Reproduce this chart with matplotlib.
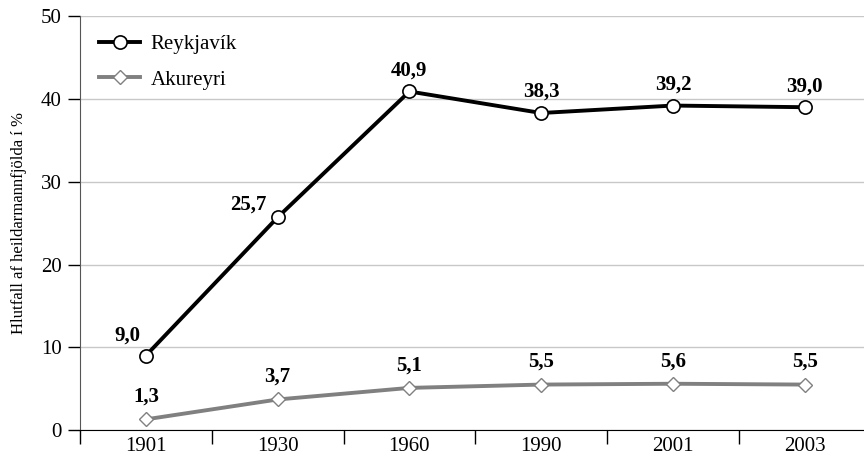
import matplotlib

matplotlib.use("Agg")
import matplotlib.pyplot as plt  # noqa: E402

years = ["1901", "1930", "1960", "1990", "2001", "2003"]
reykjavik = [9.0, 25.7, 40.9, 38.3, 39.2, 39.0]
akureyri = [1.3, 3.7, 5.1, 5.5, 5.6, 5.5]

plt.rcParams["font.family"] = ["Liberation Serif", "DejaVu Serif"]


def fmt(v):
    return f"{v:.1f}".replace(".", ",")


fig = plt.figure(figsize=(8.64, 4.61), dpi=100)
ax = fig.add_axes([0.0926, 0.067, 0.915, 0.898])

x = list(range(len(years)))
ax.plot(x, reykjavik, color="black", lw=2.8, marker="o", ms=9.5,
        mfc="white", mec="black", mew=1.2, label="Reykjavík", zorder=3)
ax.plot(x, akureyri, color="#808080", lw=2.8, marker="D", ms=7.5,
        mfc="white", mec="#808080", mew=1.0, label="Akureyri", zorder=3)

# labels
for i, v in enumerate(reykjavik):
    if i == 0:
        off, ha = (-4, 7), "right"
    elif i == 1:
        off, ha = (-8, 2), "right"
    else:
        off, ha = (0, 8), "center"
    ax.annotate(fmt(v), (i, v), xytext=off, textcoords="offset points",
                ha=ha, va="bottom", fontsize=15, fontweight="bold")
for i, v in enumerate(akureyri):
    ax.annotate(fmt(v), (i, v), xytext=(0, 9), textcoords="offset points",
                ha="center", va="bottom", fontsize=15, fontweight="bold")

ax.set_ylim(0, 50)
ax.set_xlim(-0.5, 5.5)
ax.set_yticks([0, 10, 20, 30, 40, 50])
ax.yaxis.grid(True, color="#c8c8c8", lw=1)
ax.set_axisbelow(True)

ax.set_xticks(x)
ax.set_xticklabels(years)
ax.set_xticks([i - 0.5 for i in range(len(years) + 1)], minor=True)
ax.tick_params(axis="x", which="major", length=0, labelsize=15, pad=5)
ax.tick_params(axis="x", which="minor", length=10, width=1, color="black",
               direction="out")
ax.tick_params(axis="y", length=9, width=1, labelsize=15, color="black", pad=4)

for s in ["top", "right"]:
    ax.spines[s].set_visible(False)
ax.spines["left"].set_color("#555555")
ax.spines["bottom"].set_color("black")

ax.set_ylabel("Hlutfall af heildarmannfjölda í %", fontsize=12, labelpad=10)

ax.legend(loc="upper left", bbox_to_anchor=(0.0, 1.0), frameon=False,
          fontsize=15, handlelength=2.0, labelspacing=0.75,
          borderaxespad=0.5, handletextpad=0.5)

fig.savefig("out.png", dpi=100)
